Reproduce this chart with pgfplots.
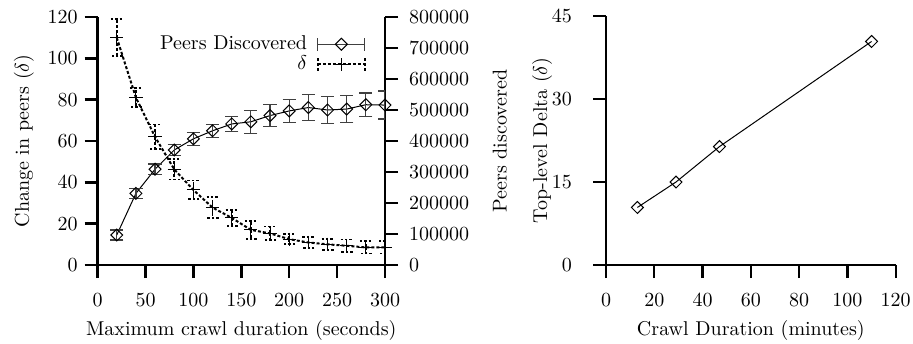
\documentclass[border=0pt]{standalone}
\usepackage{pgfplots}
\pgfplotsset{compat=1.18}
\usepackage{pgfplotstable}

\pgfplotstableread{
x y e
20 110 9
40 81 4.6
60 62 6
80 46.3 5
100 36.3 4.5
120 27.8 5
140 22.8 3.8
160 17 4.4
180 15.3 3.3
200 12.5 2.4
220 10.9 2.6
240 10 2.7
260 9.3 3.1
280 8.5 3
300 8.5 3
}\deltatable

\pgfplotstableread{
x y e
20 96700 16000
40 231000 16000
60 309000 17000
80 371000 18000
100 407000 21000
120 433000 21000
140 455000 24000
160 462000 37000
180 482000 36500
200 497000 38000
220 508000 43000
240 500000 43000
260 503000 43000
280 517000 38000
300 516000 45000
}\peerstable

\pgfplotsset{
  gpfix/.style={
    x axis line style={-}, y axis line style={-},
    axis line style={-, line width=1.2pt},
    tick align=outside,
    major tick length=6.5pt,
    tick style={line width=1.2pt, black},
  },
  gp/.style={
    scale only axis,
    minor tick num=0,
    label style={font=\normalsize},
    tick label style={font=\normalsize},
  }
}

\begin{document}
\begin{tikzpicture}
\path[use as bounding box] (-48.8pt,-39pt) rectangle (407.7pt,132.5pt);

% left axis: delta
\begin{axis}[gp,
  at={(0pt,0pt)}, anchor=south west,
  width=143.7pt, height=124pt,
  xmin=0, xmax=300, ymin=0, ymax=120,
  axis x line=bottom, axis y line=left,
  gpfix,
  xtick={0,50,...,300}, ytick={0,20,...,120},
  xticklabel style={yshift=-4.5pt},
  xlabel={Maximum crawl duration (seconds)},
  ylabel={Change in peers ($\delta$)},
]
\addplot[black, dash pattern=on 1.5pt off 1pt, line width=1pt,
  mark=+, mark size=3.3pt, mark options={solid, line width=0.5pt},
  error bars/.cd, y dir=both, y explicit, error mark=-,
  error bar style={dash pattern=on 1.5pt off 1pt, line width=0.8pt},
  error mark options={rotate=90, mark size=3pt, dash pattern=on 1.2pt off 1pt, line width=0.8pt}]
  table[x=x, y=y, y error=e] {\deltatable};
\end{axis}

% right axis: peers discovered
\begin{axis}[gp,
  at={(0pt,0pt)}, anchor=south west,
  width=143.7pt, height=124pt,
  xmin=0, xmax=300, ymin=0, ymax=800000,
  axis x line=none, axis y line=right,
  gpfix,
  ytick={0,100000,...,800000},
  scaled y ticks=false,
  yticklabel style={xshift=2pt, /pgf/number format/fixed, /pgf/number format/1000 sep={}},
  ylabel={Peers discovered},
  ylabel shift=5pt,
  legend plot pos=right,
  legend cell align=right,
  legend style={draw=none, fill=none, at={(0.955,0.958)}, anchor=north east,
    row sep=-2.5pt, font=\normalsize, column sep=3pt},
]
\addplot[black, line width=0.5pt,
  mark=square, mark size=2.1pt, mark options={rotate=45, solid},
  legend image code/.code={
    \draw[black!75, line width=0.6pt] (0pt,-3.3pt)--(0pt,3.3pt) (0pt,0pt)--(23.5pt,0pt) (23.5pt,-3.3pt)--(23.5pt,3.3pt);
    \draw[black, line width=0.5pt] (11.75pt,2.97pt)--(14.72pt,0pt)--(11.75pt,-2.97pt)--(8.78pt,0pt)--cycle;
  },
  error bars/.cd, y dir=both, y explicit, error mark=-,
  error bar style={line width=0.6pt, black!75},
  error mark options={rotate=90, mark size=3.3pt, line width=0.6pt, black!75}]
  table[x=x, y=y, y error=e] {\peerstable};
\addlegendentry{Peers Discovered}
\addlegendimage{legend image code/.code={
    \draw[dash pattern=on 1.5pt off 1pt, line width=0.8pt] (0pt,-3.3pt)--(0pt,3.3pt) (0pt,0pt)--(23.5pt,0pt) (23.5pt,-3.3pt)--(23.5pt,3.3pt);
    \draw[black, line width=0.5pt] (11.75pt,-3.3pt)--(11.75pt,3.3pt) (8.45pt,0pt)--(15.05pt,0pt);
  }}
\addlegendentry{$\delta$}
\end{axis}

% second plot
\begin{axis}[gp,
  at={(254.2pt,0pt)}, anchor=south west,
  width=144.85pt, height=124.5pt,
  xmin=0, xmax=120, ymin=0, ymax=45,
  axis x line=bottom, axis y line=left,
  gpfix,
  xtick={0,20,...,120}, ytick={0,15,...,45},
  xticklabel style={yshift=-4.5pt},
  yticklabel style={xshift=-7pt},
  xlabel={Crawl Duration (minutes)},
  ylabel={Top-level Delta ($\delta$)},
  ylabel shift=-7pt,
]
\addplot[black, line width=0.5pt, mark=square, mark size=2.1pt, mark options={rotate=45, solid}]
  coordinates {(13,10.4) (29,15) (47,21.4) (110,40.4)};
\end{axis}
\end{tikzpicture}
\end{document}
